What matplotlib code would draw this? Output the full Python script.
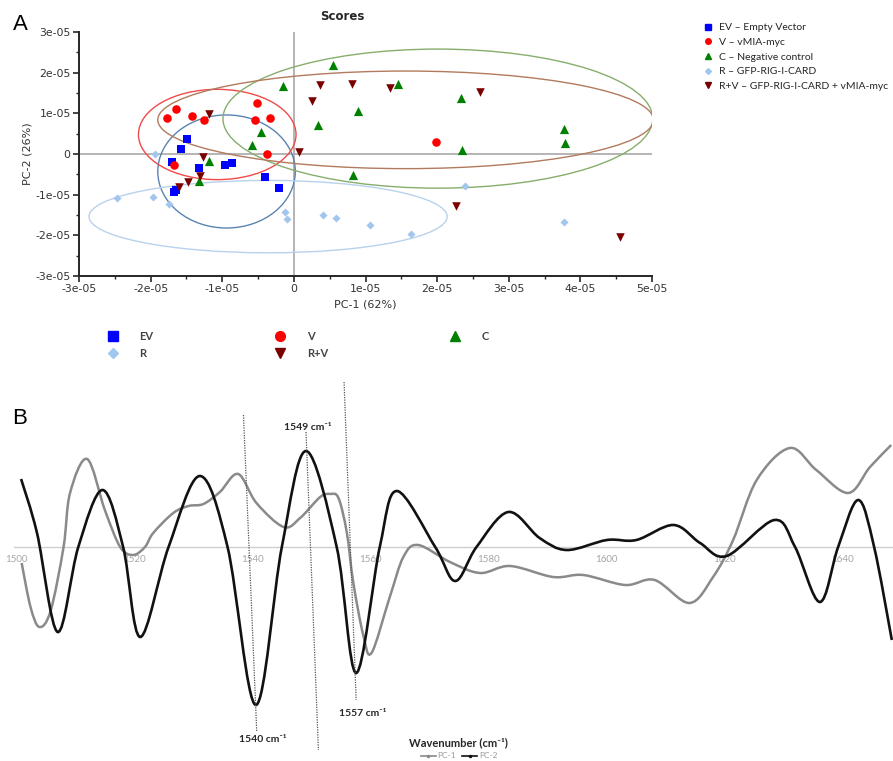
import numpy as np
import matplotlib.pyplot as plt
from matplotlib.patches import Ellipse, PathPatch
from matplotlib.path import Path
from matplotlib.lines import Line2D
import matplotlib.transforms as mtransforms

SCALE = 1e-05

# ---- Panel A: PCA scores (values in units of 1e-05) ----
ev_pc1 = [-1.49, -1.58, -1.70, -1.32, -0.96, -0.87, -0.40, -0.21, -1.67, -1.64]
ev_pc2 = [0.38, 0.13, -0.20, -0.35, -0.26, -0.21, -0.56, -0.84, -0.93, -0.89]
v_pc1 = [-1.77, -1.65, -1.42, -1.26, -0.52, -0.54, -0.33, -0.38, -1.68, 1.99]
v_pc2 = [0.89, 1.10, 0.94, 0.83, 1.25, 0.83, 0.89, 0.00, -0.26, 0.29]
c_pc1 = [0.54, -0.15, 1.45, 0.90, 0.33, -0.46, -0.58, -1.18, -1.32, 0.83, 2.34, 3.77, 3.79, 2.35]
c_pc2 = [2.18, 1.66, 1.73, 1.06, 0.72, 0.54, 0.21, -0.16, -0.66, -0.51, 1.38, 0.62, 0.27, 0.10]
r_pc1 = [-1.94, -2.47, -1.96, -1.75, -0.12, -0.09, 0.40, 0.59, 1.06, 1.63, 2.39, 3.77]
r_pc2 = [0.00, -1.09, -1.06, -1.24, -1.42, -1.61, -1.51, -1.58, -1.75, -1.97, -0.78, -1.66]
rv_pc1 = [-1.18, -1.27, -1.31, -1.48, -1.61, 0.07, 0.26, 0.36, 0.81, 1.34, 2.60, 2.27, 4.55]
rv_pc2 = [0.99, -0.07, -0.55, -0.69, -0.80, 0.04, 1.30, 1.69, 1.72, 1.63, 1.52, -1.29, -2.05]

group_short = ["EV", "V", "C", "R", "R+V"]
group_long = ["EV \u2013 Empty Vector", "V \u2013 vMIA-myc", "C \u2013 Negative control",
              "R \u2013 GFP-RIG-I-CARD", "R+V \u2013 GFP-RIG-I-CARD + vMIA-myc"]
group_colors = ["#0000ff", "#ff0000", "#008000", "#a3c6ee", "#7a0000"]
group_markers = ["s", "o", "^", "D", "v"]
group_sizes = [38, 38, 44, 17, 38]

# confidence ellipses: centre x, centre y, half width, half height (1e-05)
ell_cx = [-0.94, -1.07, 2.01, -0.36, 1.56]
ell_cy = [-0.43, 0.48, 0.87, -1.54, 0.84]
ell_rx = [0.96, 1.10, 3.00, 2.50, 3.46]
ell_ry = [1.39, 1.11, 1.71, 0.89, 1.20]
ell_colors = ["#5a83b0", "#f04a4a", "#86ae6c", "#b8d2ec", "#b27a5e"]

a_ticks = [-3, -2, -1, 0, 1, 2, 3, 4, 5]

# ---- Panel B: PC loadings over wavenumber ----
pc1_wn = [1500.1, 1501.6, 1503.1, 1505.0, 1507.2, 1508.3, 1511.2, 1514.2, 1516.8, 1519.0,
          1521.0, 1522.4, 1525.8, 1528.4, 1530.9, 1533.7, 1536.8, 1539.9, 1544.5, 1547.3,
          1550.7, 1552.4, 1553.8, 1555.2, 1556.3, 1558.0, 1559.4, 1562.5, 1564.8, 1567.3,
          1572.7, 1577.8, 1582.9, 1590.2, 1595.3, 1602.4, 1607.4, 1613.3, 1617.3, 1620.7,
          1624.7, 1630.3, 1634.8, 1640.2, 1643.9, 1647.5]
pc1_val = [-0.16, -0.60, -0.80, -0.64, 0.00, 0.54, 0.88, 0.37, 0.00, -0.08,
           0.00, 0.14, 0.34, 0.41, 0.43, 0.55, 0.73, 0.44, 0.20, 0.29,
           0.50, 0.53, 0.49, 0.15, -0.35, -0.88, -1.06, -0.50, -0.10, 0.02,
           -0.15, -0.26, -0.19, -0.30, -0.28, -0.38, -0.33, -0.56, -0.30, 0.07,
           0.67, 0.99, 0.77, 0.54, 0.80, 1.02]
pc2_wn = [1500.0, 1502.7, 1506.2, 1509.7, 1513.8, 1517.3, 1520.2, 1525.0, 1530.3, 1535.0,
          1539.8, 1544.2, 1548.3, 1553.5, 1556.8, 1560.8, 1563.7, 1570.2, 1573.6, 1577.2,
          1582.6, 1587.9, 1592.5, 1599.3, 1604.3, 1610.6, 1615.1, 1619.6, 1627.7, 1631.2,
          1635.4, 1638.5, 1641.9, 1644.6, 1647.6]
pc2_val = [0.68, 0.14, -0.85, 0.00, 0.57, 0.00, -0.90, 0.00, 0.71, 0.00,
           -1.58, 0.00, 0.96, 0.00, -1.26, 0.00, 0.56, 0.00, -0.34, 0.00,
           0.35, 0.09, -0.03, 0.07, 0.07, 0.22, 0.04, -0.09, 0.27, 0.00,
           -0.55, 0.00, 0.47, 0.00, -0.93]
b_ticks = [1500, 1520, 1540, 1560, 1580, 1600, 1620, 1640]

peak_labels = ["1540 cm\u207b\u00b9", "1549 cm\u207b\u00b9", "1557 cm\u207b\u00b9"]
peak_label_x = [1541.0, 1548.5, 1557.9]
peak_label_y = [-1.92, 1.20, -1.66]
guide_top = [(1537.7, 1.32), (1548.3, 1.15), (1554.75, 1.65)]
guide_bottom = [(1539.95, -1.85), (1550.4, -2.03), (1556.8, -1.53)]

cal = ["Lato", "DejaVu Sans"]


def smooth_path(x, y):
    # Catmull-Rom style smoothing, like a spreadsheet "smoothed line"
    pts = np.column_stack([x, y])
    verts = [pts[0]]
    codes = [Path.MOVETO]
    n = len(pts)
    for i in range(n - 1):
        p0 = pts[max(i - 1, 0)]
        p1 = pts[i]
        p2 = pts[i + 1]
        p3 = pts[min(i + 2, n - 1)]
        verts += [p1 + (p2 - p0) / 6, p2 - (p3 - p1) / 6, p2]
        codes += [Path.CURVE4] * 3
    return Path(verts, codes)


fig = plt.figure(figsize=(8.93, 7.61), dpi=100)

# ================= Panel A =================
axA = fig.add_axes([79 / 893, 1 - 276 / 761, (652 - 79) / 893, (276 - 32) / 761])
axA.set_xlim(-3 * SCALE, 5 * SCALE)
axA.set_ylim(-3 * SCALE, 3 * SCALE)
axA.axhline(0, color="#a8a8a8", lw=1.2, zorder=1)
axA.axvline(0, color="#a8a8a8", lw=1.2, zorder=1)

for cx, cy, rx, ry, col in zip(ell_cx, ell_cy, ell_rx, ell_ry, ell_colors):
    axA.add_patch(Ellipse((cx * SCALE, cy * SCALE), 2 * rx * SCALE, 2 * ry * SCALE,
                          fill=False, edgecolor=col, lw=1.0, zorder=2))

xs = [ev_pc1, v_pc1, c_pc1, r_pc1, rv_pc1]
ys = [ev_pc2, v_pc2, c_pc2, r_pc2, rv_pc2]
for gx, gy, col, mk, sz in zip(xs, ys, group_colors, group_markers, group_sizes):
    axA.scatter(np.array(gx) * SCALE, np.array(gy) * SCALE, s=sz, marker=mk,
                color=col, linewidths=0, zorder=3)

for side in ["top", "right"]:
    axA.spines[side].set_visible(False)
for side in ["left", "bottom"]:
    axA.spines[side].set_color("#262626")
    axA.spines[side].set_linewidth(1.4)
axA.set_xticks(np.array(a_ticks) * SCALE)
axA.set_yticks(np.array(a_ticks[:7]) * SCALE)
axA.set_xticks(np.arange(-2.5, 5, 1) * SCALE, minor=True)
axA.set_yticks(np.arange(-2.5, 3, 1) * SCALE, minor=True)
fmt = plt.FuncFormatter(lambda v, p: "0" if abs(v) < 1e-12 else f"{v:.0e}")
axA.xaxis.set_major_formatter(fmt)
axA.yaxis.set_major_formatter(fmt)
axA.tick_params(which="major", length=4, width=1.2, color="#262626",
                labelsize=7.8, labelcolor="#333333", pad=2)
axA.tick_params(which="minor", length=2.5, width=1.0, color="#262626")
axA.set_xlabel("PC-1 (62%)", fontsize=8, color="#333333", labelpad=4)
axA.set_ylabel("PC-2 (26%)", fontsize=8, color="#333333", labelpad=2)

fig.text(342 / 893, 1 - 17 / 761, "Scores", fontsize=8.5, fontweight="bold",
         color="#262626", ha="center", va="center")
fig.text(20 / 893, 1 - 25 / 761, "A", fontsize=16, family="Liberation Sans",
         ha="center", va="center")

# right legend (long names)
hl = [Line2D([], [], ls="none", marker=m, color=c, markersize=4 if m != "D" else 3)
      for m, c in zip(group_markers, group_colors)]
fig.legend(hl, group_long, loc="upper left", bbox_to_anchor=(704 / 893, 1 - 23 / 761),
           frameon=False, prop={"family": cal, "size": 7.5}, labelcolor="#262626",
           handlelength=0.8, handletextpad=0.6, labelspacing=0.52,
           borderpad=0, borderaxespad=0)

# bottom legend (short names)
hs = [Line2D([], [], ls="none", marker=m, color=c, markersize=7 if m != "D" else 5.5)
      for m, c in zip(group_markers, group_colors)]
order = [0, 3, 1, 4, 2]
fig.legend([hs[i] for i in order], [group_short[i] for i in order], ncol=3,
           loc="upper left", bbox_to_anchor=(107 / 893, 1 - 331 / 761),
           frameon=False, prop={"family": cal, "size": 8, "weight": "bold"},
           labelcolor="#444444", handlelength=1.0, handletextpad=1.9,
           columnspacing=10.9, labelspacing=0.55, borderpad=0, borderaxespad=0)

# ================= Panel B =================
axB = fig.add_axes([14 / 893, 0, (893 - 14) / 893, (761 - 385) / 761])
axB.set_xlim(1498.8, 1647.8)
axB.set_ylim(-2.14, 1.62)
for side in ["top", "right", "left"]:
    axB.spines[side].set_visible(False)
axB.spines["bottom"].set_position(("data", 0))
axB.spines["bottom"].set_color("#cfcfcf")
axB.spines["bottom"].set_linewidth(1.0)
axB.set_yticks([])
axB.set_xticks(b_ticks)
axB.tick_params(axis="x", length=0, pad=5.5, labelsize=7, labelcolor="#a6a6a6")
for lab in axB.get_xticklabels():
    lab.set_family(cal)
    lab.set_transform(lab.get_transform() +
                      mtransforms.ScaledTranslation(-0.05, 0, fig.dpi_scale_trans))

axB.add_patch(PathPatch(smooth_path(pc1_wn, pc1_val), facecolor="none",
                        edgecolor="#8a8a8a", lw=1.8, zorder=3))
axB.add_patch(PathPatch(smooth_path(pc2_wn, pc2_val), facecolor="none",
                        edgecolor="#111111", lw=1.9, zorder=4))

for (x0, y0), (x1, y1) in zip(guide_top, guide_bottom):
    axB.plot([x0, x1], [y0, y1], color="#555555", lw=0.9, ls=(0, (1, 1)),
             clip_on=False, zorder=5)
for txt, lx, ly in zip(peak_labels, peak_label_x, peak_label_y):
    axB.text(lx, ly, txt, fontsize=7.5, fontweight="bold", family=cal,
             color="#262626", ha="center", va="center", zorder=6)

fig.text(20 / 893, 1 - 418 / 761, "B", fontsize=16, family="Liberation Sans",
         ha="center", va="center")
fig.text(458 / 893, 1 - 743 / 761, "Wavenumber (cm\u207b\u00b9)", fontsize=8,
         fontweight="bold", family=cal, color="#262626", ha="center", va="center")
hb = [Line2D([], [], color="#8a8a8a", lw=1.2, marker=".", markersize=3),
      Line2D([], [], color="#111111", lw=1.2, marker=".", markersize=3)]
fig.legend(hb, ["PC-1", "PC-2"], ncol=2, loc="center", bbox_to_anchor=(459 / 893, 1 - 756 / 761),
           frameon=False, prop={"family": cal, "size": 6}, labelcolor="#999999",
           handlelength=1.8, handletextpad=0.2, columnspacing=0.8,
           borderpad=0, borderaxespad=0)

fig.savefig("out.png", dpi=100)
